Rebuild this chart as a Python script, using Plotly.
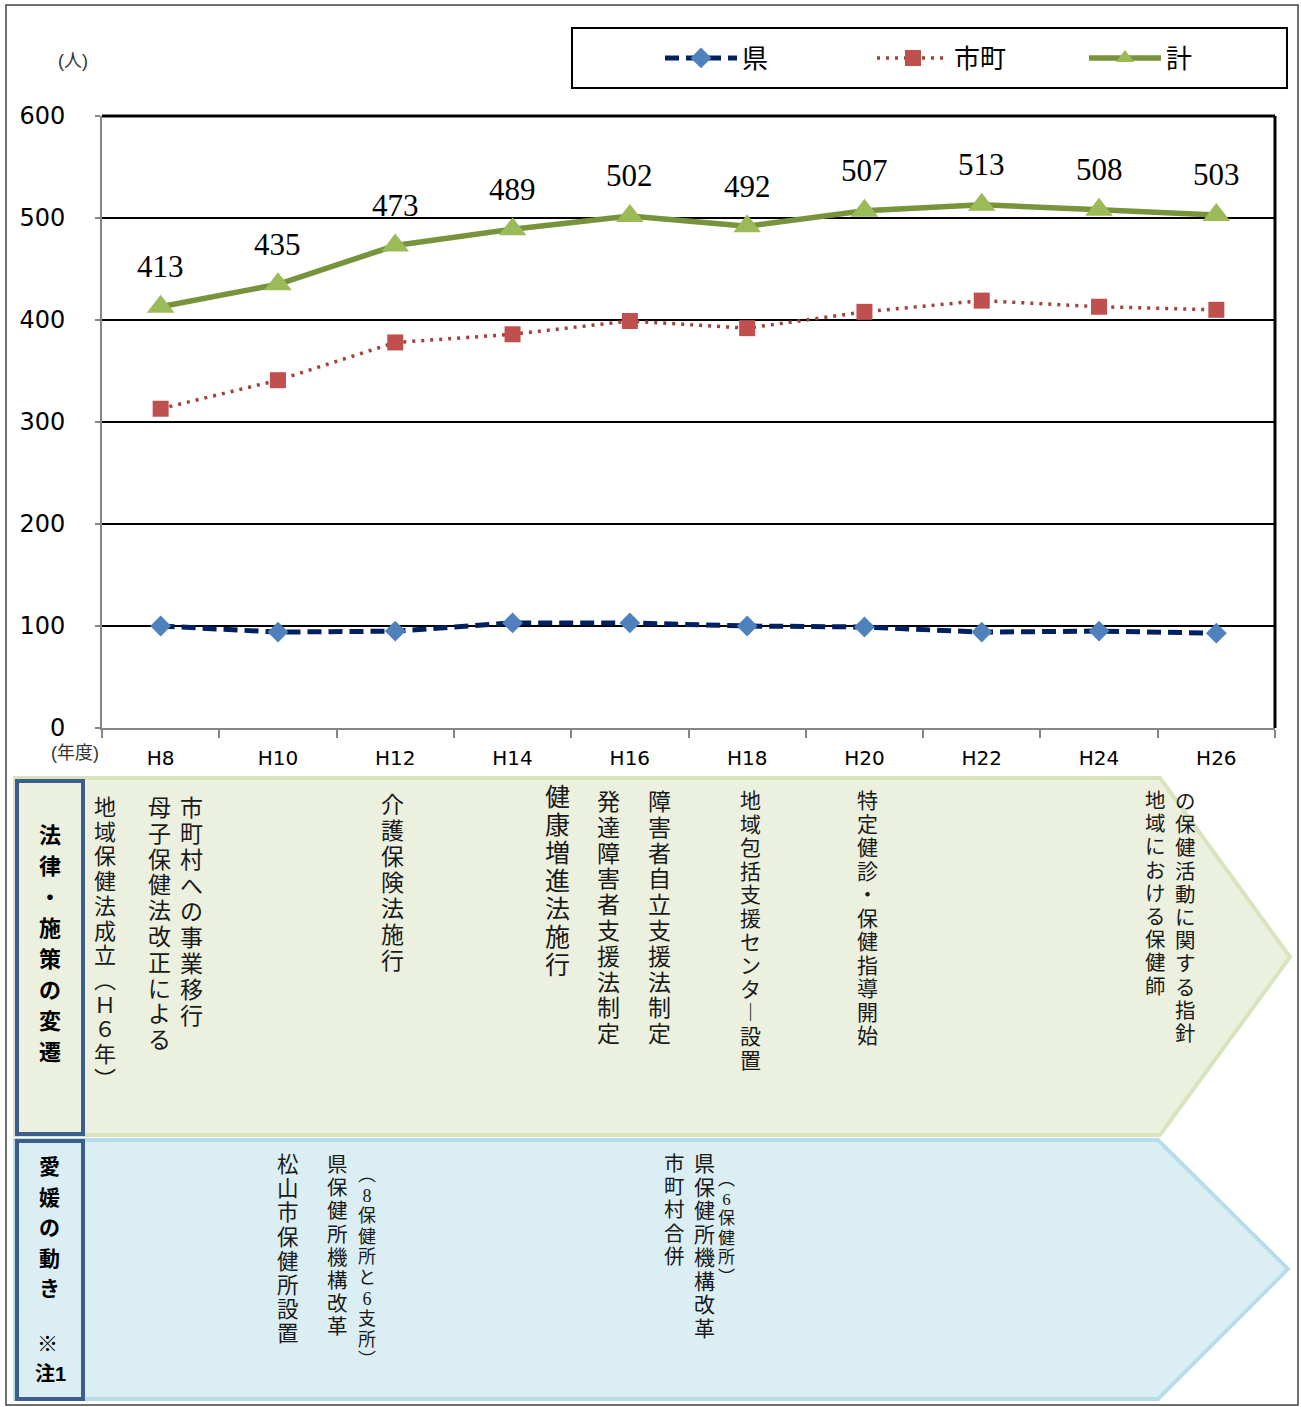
import plotly.graph_objects as go

# 保健師数の推移（年度別）
years = ["H8", "H10", "H12", "H14", "H16", "H18", "H20", "H22", "H24", "H26"]
ken = [100, 94, 95, 103, 103, 100, 99, 94, 95, 93]          # 県
shicho = [313, 341, 378, 386, 399, 392, 408, 419, 413, 410]  # 市町
total = [413, 435, 473, 489, 502, 492, 507, 513, 508, 503]   # 計

W, H = 1301, 1407


def px(x):
    return x / W


def py(y):
    return 1 - y / H


JP = "Noto Sans CJK JP"
BODY = "Liberation Serif, Noto Sans CJK JP"
HEAD = "Liberation Sans, Noto Sans CJK JP"
NUM = "DejaVu Sans"

fig = go.Figure()
fig.add_trace(go.Scatter(
    x=years, y=ken, name="県", mode="lines+markers",
    line=dict(color="#002060", width=5, dash="14px,7px"),
    marker=dict(symbol="diamond", size=16, color="#4f81bd"),
))
fig.add_trace(go.Scatter(
    x=years, y=shicho, name="市町", mode="lines+markers",
    line=dict(color="#a0413e", width=3.5, dash="3px,6px"),
    marker=dict(symbol="square", size=16, color="#c0504d"),
))
fig.add_trace(go.Scatter(
    x=years, y=total, name="計", mode="lines+markers",
    line=dict(color="#77933c", width=5.5),
    marker=dict(symbol="triangle-up", size=24, color="#9bbb59"),
))

annotations = []

# 計の値ラベル
for yr, v in zip(years, total):
    annotations.append(dict(
        x=yr, y=v, xref="x", yref="y", text=str(v), showarrow=False,
        yshift=40, font=dict(family="Liberation Serif", size=31, color="#000"),
    ))

annotations.append(dict(x=px(73), y=py(61), xref="paper", yref="paper", text="(人)",
                        xanchor="center", yanchor="middle", borderpad=0,
                        showarrow=False, font=dict(family=HEAD, size=18, color="#333")))
annotations.append(dict(x=px(75), y=py(753), xref="paper", yref="paper", text="(年度)",
                        xanchor="center", yanchor="middle", borderpad=0,
                        showarrow=False, font=dict(family=HEAD, size=18, color="#333")))

# 縦書き用の字形（括弧・長音）
VERT = {"（": "\ufe35", "）": "\ufe36", "ー": "\ufe31"}


def vcol(x, y0, text, size, pitch, bold=False, color="#1a1a1a", family=BODY):
    """縦書きの1列を1つの注釈として配置する（行送り＝pitch）"""
    chars = [VERT.get(ch, ch) for ch in text]
    lines = [f"<span style='font-size:{size}px'>{ch}</span>" for ch in chars]
    body = "<br>".join(lines)
    if bold:
        body = f"<b>{body}</b>"
    annotations.append(dict(
        x=px(x), y=py(y0 + pitch * len(chars) / 2), xref="paper", yref="paper",
        text=body, showarrow=False, xanchor="center", yanchor="middle", align="center",
        borderpad=0,
        font=dict(family=family, size=pitch / 1.3, color=color),
    ))


# 法律・施策の変遷
vcol(105, 795, "地域保健法成立（Ｈ６年）", 22, 24.7)
vcol(159, 795, "母子保健法改正による", 23, 25.8)
vcol(191, 795, "市町村への事業移行", 23, 26)
vcol(392, 792, "介護保険法施行", 23, 26)
vcol(557, 783, "健康増進法施行", 25, 28)
vcol(608, 789, "発達障害者支援法制定", 23, 25.8)
vcol(659, 789, "障害者自立支援法制定", 23, 25.8)
vcol(750, 789, "地域包括支援センター設置", 21, 23.6)
vcol(867, 789, "特定健診・保健指導開始", 21, 23.5)
vcol(1155, 790, "地域における保健師", 20.5, 23.2)
vcol(1185, 790, "の保健活動に関する指針", 20.5, 23.2)

# 愛媛の動き
vcol(288, 1153, "松山市保健所設置", 21.5, 24.2)
vcol(337, 1153, "県保健所機構改革", 20.5, 23.2)
vcol(367, 1164, "（8保健所と6支所）", 18, 20.6)
vcol(674, 1152, "市町村合併", 20.5, 23.2)
vcol(704, 1152, "県保健所機構改革", 21, 23.5)
vcol(727, 1170, "（6保健所）", 17, 19.5)

# 見出し
vcol(50, 820, "法律・施策の変遷", 22, 31, bold=True, color="#000", family=HEAD)
vcol(49, 1151, "愛媛の動き", 21, 30.5, bold=True, color="#000", family=HEAD)
annotations.append(dict(x=px(48), y=py(1343), xref="paper", yref="paper", text="<b>※</b>",
                        xanchor="center", yanchor="middle", borderpad=0,
                        showarrow=False, font=dict(family=HEAD, size=21, color="#000")))
annotations.append(dict(x=px(50), y=py(1374), xref="paper", yref="paper", text="<b>注1</b>",
                        xanchor="center", yanchor="middle", borderpad=0,
                        showarrow=False, font=dict(family=HEAD, size=20, color="#000")))


def poly(points):
    return "M " + " L ".join(f"{px(x):.5f},{py(y):.5f}" for x, y in points) + " Z"


shapes = [
    # 外枠
    dict(type="rect", xref="paper", yref="paper", x0=px(6), x1=px(1298), y0=py(5), y1=py(1405),
         line=dict(color="#404040", width=1.5), layer="below"),
    # 凡例の枠
    dict(type="rect", xref="paper", yref="paper", x0=px(572), x1=px(1287), y0=py(28), y1=py(88),
         line=dict(color="#000", width=2)),
    # プロット領域の上辺・右辺
    dict(type="line", xref="x domain", yref="y domain", x0=0, x1=1, y0=1, y1=1,
         line=dict(color="#000", width=3)),
    dict(type="line", xref="x domain", yref="y domain", x0=1, x1=1, y0=0, y1=1,
         line=dict(color="#000", width=3)),
    # 矢印パネル
    dict(type="path", xref="paper", yref="paper",
         path=poly([(15, 778), (1160, 778), (1290, 957), (1160, 1135), (15, 1135)]),
         fillcolor="#ebf1de", line=dict(color="#d7e4bd", width=4), layer="below"),
    dict(type="path", xref="paper", yref="paper",
         path=poly([(15, 1140), (1158, 1140), (1288, 1269), (1158, 1399), (15, 1399)]),
         fillcolor="#dbeef4", line=dict(color="#b7dee8", width=4), layer="below"),
    dict(type="rect", xref="paper", yref="paper", x0=px(17), x1=px(83), y0=py(781), y1=py(1134),
         fillcolor="#ebf1de", line=dict(color="#3b5e8c", width=4), layer="below"),
    dict(type="rect", xref="paper", yref="paper", x0=px(17), x1=px(83), y0=py(1141), y1=py(1399),
         fillcolor="#dbeef4", line=dict(color="#3b5e8c", width=4), layer="below"),
]

fig.update_layout(
    width=W, height=H,
    margin=dict(l=0, r=0, t=0, b=0, autoexpand=False),
    paper_bgcolor="#fff", plot_bgcolor="#fff",
    showlegend=True,
    legend=dict(orientation="h", x=px(660), y=py(58), xanchor="left", yanchor="middle",
                font=dict(family=JP, size=26, color="#000"),
                bgcolor="rgba(0,0,0,0)", borderwidth=0, itemwidth=72,
                entrywidth=125, entrywidthmode="pixels", traceorder="normal"),
    xaxis=dict(domain=[px(102), px(1275)], type="category", tickson="boundaries",
               range=[-0.5, 9.5],
               showgrid=False, showline=True, linecolor="#868686", linewidth=2,
               ticks="outside", ticklen=8, tickcolor="#868686", tickwidth=1.5,
               ticklabelstandoff=11,
               tickfont=dict(family=NUM, size=20, color="#000"), fixedrange=True),
    yaxis=dict(domain=[py(728), py(116)], range=[0, 600], dtick=100,
               showgrid=True, gridcolor="#000", gridwidth=1.5, zeroline=False,
               showline=True, linecolor="#868686", linewidth=2,
               ticks="outside", ticklen=5, tickcolor="#868686", tickwidth=1.5,
               ticklabelstandoff=25,
               tickfont=dict(family=NUM, size=24, color="#000"), fixedrange=True),
    annotations=annotations,
    shapes=shapes,
)

fig.write_html("out.html")
